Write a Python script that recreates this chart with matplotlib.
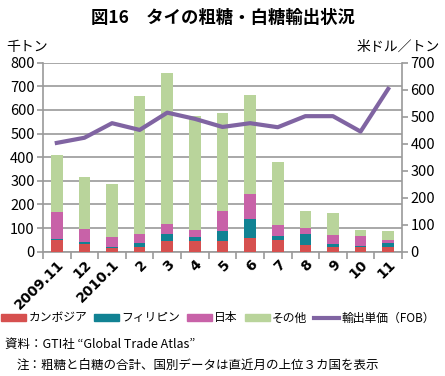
import numpy as np
import matplotlib
matplotlib.use('Agg')
import matplotlib.pyplot as plt
from matplotlib.patches import Patch
from matplotlib.lines import Line2D

plt.rcParams['font.family'] = ['Noto Sans CJK JP', 'DejaVu Sans']

# data (千トン / 米ドル per トン)
months = ['2009.11', '12', '2010.1', '2', '3', '4', '5', '6', '7', '8', '9', '10', '11']
cambodia = [50, 33, 17, 20, 47, 45, 45, 60, 48, 27, 21, 19, 21]
philippines = [3, 10, 4, 17, 27, 18, 43, 78, 20, 47, 12, 6, 17]
japan = [114, 53, 43, 40, 45, 29, 84, 105, 45, 28, 39, 43, 13]
others = [243, 220, 223, 583, 637, 483, 414, 420, 266, 72, 93, 24, 38]
unit_price = [403, 422, 476, 451, 515, 492, 462, 476, 461, 502, 502, 445, 603]

c_cam = '#D6504F'
c_phi = '#118293'
c_jpn = '#C862A8'
c_oth = '#B9D49B'
c_line = '#8064A2'
grid_c = '#9A9A9A'

fig = plt.figure(figsize=(4.45, 3.76), dpi=100)
ax = fig.add_axes([43 / 445, 1 - 251.7 / 376, 359 / 445, 189 / 376])
x = np.arange(len(months))
w = 0.42

bottom = np.zeros(len(months))
for vals, col in [(cambodia, c_cam), (philippines, c_phi), (japan, c_jpn), (others, c_oth)]:
    ax.bar(x, vals, w, bottom=bottom, color=col, zorder=3)
    bottom += np.array(vals)

ax.set_xlim(-0.5, len(months) - 0.5)
ax.set_ylim(0, 800)
ax.set_yticks(range(0, 801, 100))
ax.yaxis.grid(True, color=grid_c, lw=1.2, zorder=0)
ax.set_xticks(x)
ax.set_xticklabels(months, rotation=45, ha='right', rotation_mode='anchor',
                   fontsize=10, fontweight='bold', family=['DejaVu Sans'])
ax.set_xticks(np.arange(-0.5, len(months), 1), minor=True)
ax.tick_params(axis='x', which='major', length=0, pad=4)
ax.tick_params(axis='x', which='minor', length=5, color=grid_c, width=1.2)
ax.tick_params(axis='y', length=4, color=grid_c, width=1.2, labelsize=10.5, pad=2)
for s in ['top', 'right']:
    ax.spines[s].set_visible(False)
for s in ['left', 'bottom']:
    ax.spines[s].set_color(grid_c)
    ax.spines[s].set_linewidth(1.2)

ax2 = ax.twinx()
ax2.plot(x, unit_price, color=c_line, lw=3, zorder=5)
ax2.set_ylim(0, 700)
ax2.set_yticks(range(0, 701, 100))
ax2.tick_params(axis='y', length=4, color=grid_c, width=1.2, labelsize=10.5, pad=2)
for s in ['top', 'left', 'bottom']:
    ax2.spines[s].set_visible(False)
ax2.spines['right'].set_color(grid_c)
ax2.spines['right'].set_linewidth(1.2)

fig.text(0.5, 1 - 18 / 376, '図16　タイの粗糖・白糖輸出状況', ha='center', va='center',
         fontsize=12.5, fontweight='bold')
fig.text(6 / 445, 1 - 47 / 376, '千トン', ha='left', va='center', fontsize=10)
fig.text(440 / 445, 1 - 47 / 376, '米ドル／トン', ha='right', va='center', fontsize=10)

handles = [Patch(color=c_cam), Patch(color=c_phi), Patch(color=c_jpn), Patch(color=c_oth),
           Line2D([0], [0], color=c_line, lw=3)]
labels = ['カンボジア', 'フィリピン', '日本', 'その他', '輸出単価（FOB）']
fig.legend(handles, labels, loc='center', bbox_to_anchor=(0.49, 1 - 318 / 376), ncol=5,
           frameon=False, fontsize=8.5, handlelength=2.1, handleheight=0.55,
           handletextpad=0.2, columnspacing=0.6, borderpad=0)

fig.text(5 / 445, 1 - 344 / 376, '資料：GTI社 “Global Trade Atlas”', ha='left', va='center', fontsize=9)
fig.text(17 / 445, 1 - 365 / 376, '注：粗糖と白糖の合計、国別データは直近月の上位３カ国を表示',
         ha='left', va='center', fontsize=9)

fig.savefig('out.png', dpi=100)
